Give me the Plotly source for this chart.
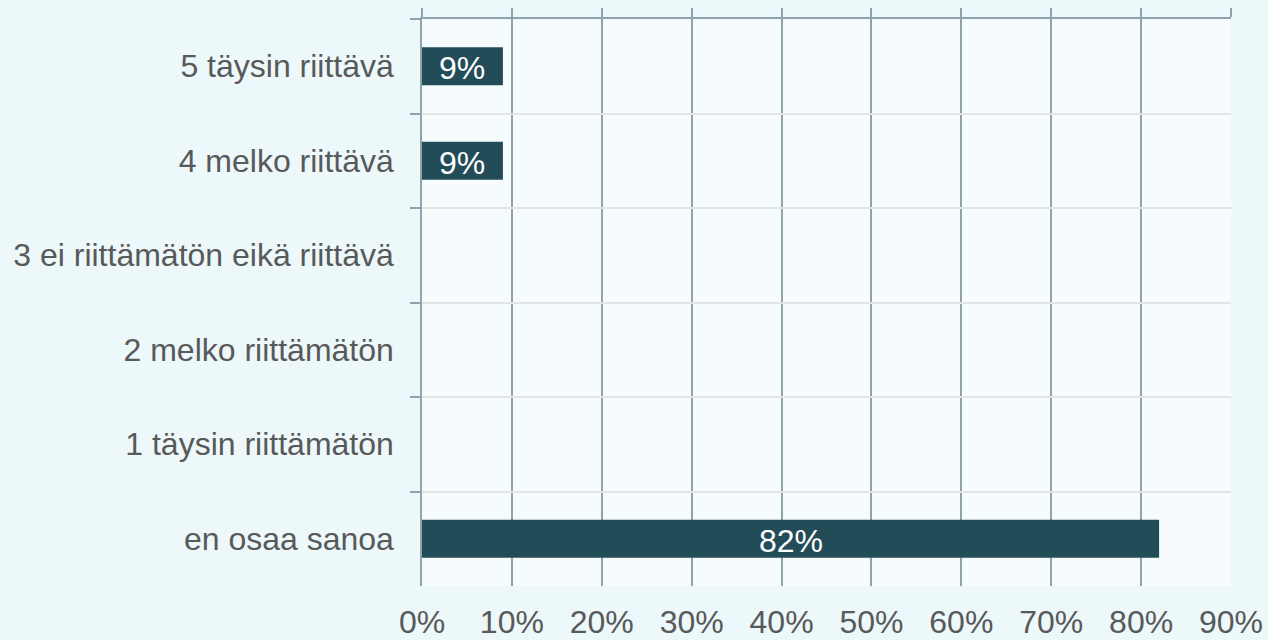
import plotly.graph_objects as go

categories = ["5 täysin riittävä", "4 melko riittävä", "3 ei riittämätön eikä riittävä",
              "2 melko riittämätön", "1 täysin riittämätön", "en osaa sanoa"]
values = [9, 9, 0, 0, 0, 82]
bar_labels = ["9%", "9%", "", "", "", "82%"]
x_ticks = [0, 10, 20, 30, 40, 50, 60, 70, 80, 90]
x_tick_labels = [f"{v}%" for v in x_ticks]

BAR = "#234c59"
AX = "#8ea3ab"
GRIDH = "#e2e4e4"
TXT = "#595959"
FONT = "Liberation Sans, Arial, sans-serif"
FS = 32

fig = go.Figure()
fig.add_trace(go.Bar(
    x=values, y=categories, orientation="h",
    marker=dict(color=BAR, line=dict(width=0)),
    textposition="none",
    hoverinfo="skip", xaxis="x", yaxis="y",
))
# invisible trace to draw the top tick axis
fig.add_trace(go.Scatter(x=[0], y=[categories[0]], mode="markers",
                         marker=dict(opacity=0), xaxis="x2", yaxis="y",
                         hoverinfo="skip", showlegend=False))

# value labels centred in the bars (positioned via data scale)
for v, c, t in zip(values, categories, bar_labels):
    if t:
        fig.add_annotation(x=v / 2, y=c, xref="x", yref="y", text=t, showarrow=False,
                           xanchor="center", yanchor="middle", yshift=-2,
                           font=dict(color="white", size=FS, family=FONT))

fig.update_layout(
    width=1268, height=640,
    margin=dict(l=422, r=37, t=19, b=54),
    paper_bgcolor="#ecf8fa",
    plot_bgcolor="rgba(255,255,255,0.55)",
    showlegend=False,
    bargap=0.6,
    font=dict(family=FONT, size=FS, color=TXT),
    xaxis=dict(
        range=[0, 90], tickvals=x_ticks, ticktext=x_tick_labels,
        showgrid=True, gridcolor=AX, gridwidth=1.5,
        zeroline=False, showline=False, ticks="",
        ticklabelstandoff=14, automargin=False,
        tickfont=dict(size=FS, color=TXT, family=FONT),
    ),
    xaxis2=dict(
        overlaying="x", side="top", matches="x", range=[0, 90],
        tickvals=x_ticks, showticklabels=False,
        ticks="outside", ticklen=9, tickcolor=AX, tickwidth=1.5, automargin=False,
        showline=True, linecolor=AX, linewidth=1.5, showgrid=False, zeroline=False,
    ),
    yaxis=dict(
        type="category", autorange="reversed",
        tickson="boundaries", ticks="outside", ticklen=10, tickcolor=AX, tickwidth=1.5,
        showgrid=True, gridcolor=GRIDH, gridwidth=2,
        showline=True, linecolor=AX, linewidth=1.5,
        ticklabelstandoff=20, automargin=False,
        tickfont=dict(size=FS, color=TXT, family=FONT),
    ),
)

fig.write_html("out.html", config={"displayModeBar": False},
               post_script="document.body.style.margin='0';document.body.style.overflow='hidden';")
